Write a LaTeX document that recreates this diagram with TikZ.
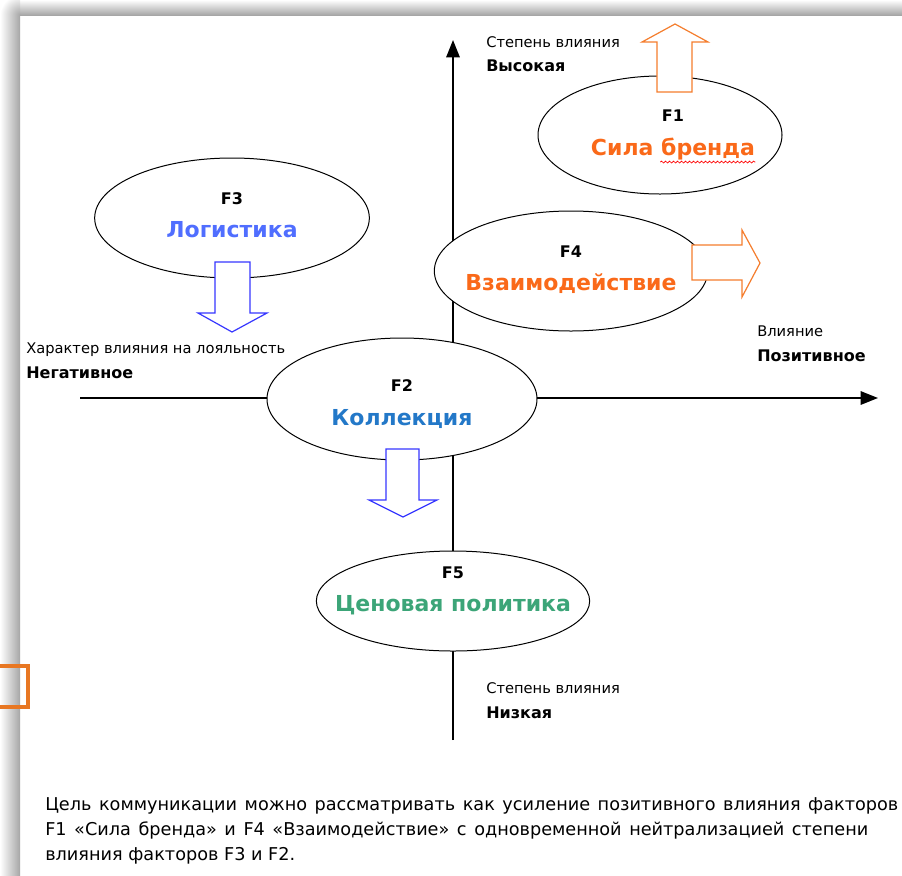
\documentclass[tikz,border=0pt]{standalone}
\usepackage{fontspec}
\setmainfont{DejaVu Sans}
\usetikzlibrary{arrows.meta,shapes.geometric,decorations.pathmorphing}
\definecolor{brandorange}{RGB}{250,105,25}
\definecolor{hollowora}{RGB}{245,125,45}
\definecolor{logblue}{RGB}{80,110,255}
\definecolor{colblue}{RGB}{35,120,200}
\definecolor{priceg}{RGB}{60,165,120}
\definecolor{hollowblue}{RGB}{55,55,255}
\definecolor{markora}{RGB}{232,119,34}

\begin{document}
\begin{tikzpicture}[x=0.75pt, y=-0.75pt,
    factor/.style={draw, ellipse, fill=white, line width=0.75pt, inner sep=0pt},
    ftext/.style={align=center, inner sep=0pt, font=\bfseries\fontsize{12}{14}\selectfont},
    axis/.style={line width=1.5pt, -{Triangle[length=13pt, width=10pt]}},
    axlbl/.style={anchor=base west, inner sep=0pt, font=\fontsize{11}{13}\selectfont},
    axlvl/.style={anchor=base west, inner sep=0pt, font=\bfseries\fontsize{12}{14}\selectfont},
    hollow/.style={fill=white, line width=0.9pt, line join=miter},
    spellwave/.style={red, line width=0.5pt, decorate, decoration={snake, amplitude=0.7pt, segment length=3pt}}
]
\useasboundingbox (0,0) rectangle (902,875);
% page and window shadow
\fill[white] (0,0) rectangle (902,875);
\shade[left color=white, right color=gray!70] (0,15) rectangle (20,875);
\shade[top color=white, bottom color=gray!70] (20,0) rectangle (902,15);
\begin{scope}
  \clip (0,0) rectangle (20,15);
  \shade[inner color=gray!70, outer color=white] (20,15) circle (20);
\end{scope}

% axes
\coordinate (ybot) at (453,740);
\coordinate (ytop) at (453,40);
\coordinate (xleft) at (80,398);
\coordinate (xright) at (878,398);
\draw[axis] (ybot) -- (ytop);
\draw[axis] (xleft) -- (xright);

\node[axlbl] (hightxt) at (486,47) {Степень влияния};
\node[axlvl] (highlvl) at (486,71) {Высокая};
\node[axlbl] (negtxt) at (26,353) {Характер влияния на лояльность};
\node[axlvl] (neglvl) at (26,378) {Негативное};
\node[axlbl] (postxt) at (757,336) {Влияние};
\node[axlvl] (poslvl) at (757,361) {Позитивное};
\node[axlbl] (lowtxt) at (486,693) {Степень влияния};
\node[axlvl] (lowlvl) at (486,718) {Низкая};

% factors
\node[factor, minimum width=183pt, minimum height=88.5pt] (f1) at (660,135) {};
\node[factor, minimum width=205pt, minimum height=90pt] (f4) at (571,271) {};
\node[factor, minimum width=206pt, minimum height=90pt] (f3) at (232,218) {};
\node[factor, minimum width=202.5pt, minimum height=91.5pt] (f2) at (402,399) {};
\node[factor, minimum width=205pt, minimum height=75pt] (f5) at (453,601) {};

\node[ftext] (f1t) at ([shift={(13,0)}]f1.center) {F1\\[11pt]\textcolor{brandorange}{\fontsize{16.5}{20}\selectfont Сила бренда}};
\node[ftext] (f4t) at ([shift={(0,-1)}]f4.center) {F4\\[11pt]\textcolor{brandorange}{\fontsize{16.5}{20}\selectfont Взаимодействие}};
\node[ftext] (f3t) at ([shift={(0,-3)}]f3.center) {F3\\[11pt]\textcolor{logblue}{\fontsize{16.5}{20}\selectfont Логистика}};
\node[ftext] (f2t) at ([shift={(0,5)}]f2.center) {F2\\[11pt]\textcolor{colblue}{\fontsize{16.5}{20}\selectfont Коллекция}};
\node[ftext] (f5t) at ([shift={(0,-10)}]f5.center) {F5\\[11pt]\textcolor{priceg}{\fontsize{16.5}{20}\selectfont Ценовая политика}};
\draw[spellwave] ([shift={(-95,2)}]f1t.south east) -- ([shift={(0,2)}]f1t.south east);

% hollow arrows
\draw[hollow, draw=hollowora] (657,92) -- (657,42) -- (642,42) -- (675,24) -- (708,42) -- (692,42) -- (692,92) -- cycle;
\draw[hollow, draw=hollowora] (692,245) -- (742,245) -- (742,230) -- (760,263) -- (742,297) -- (742,280) -- (692,280) -- cycle;
\draw[hollow, draw=hollowblue] (215,262) -- (250,262) -- (250,313) -- (267,313) -- (232,332) -- (198,313) -- (215,313) -- cycle;
\draw[hollow, draw=hollowblue] (386,449) -- (419,449) -- (419,500) -- (437,500) -- (403,517) -- (369,500) -- (386,500) -- cycle;

\draw[markora, line width=3pt] (-10,666) rectangle (28,707);

\node[anchor=base west, inner sep=0pt, align=left, font=\fontsize{13.25}{18.75}\selectfont] (goal) at (45,860)
  {\makebox[639.75pt][s]{Цель коммуникации можно рассматривать как усиление позитивного влияния факторов}\\
   \makebox[617.25pt][s]{F1 «Сила бренда» и F4 «Взаимодействие» с одновременной нейтрализацией степени}\\
   влияния факторов F3 и F2.};
\end{tikzpicture}
\end{document}
